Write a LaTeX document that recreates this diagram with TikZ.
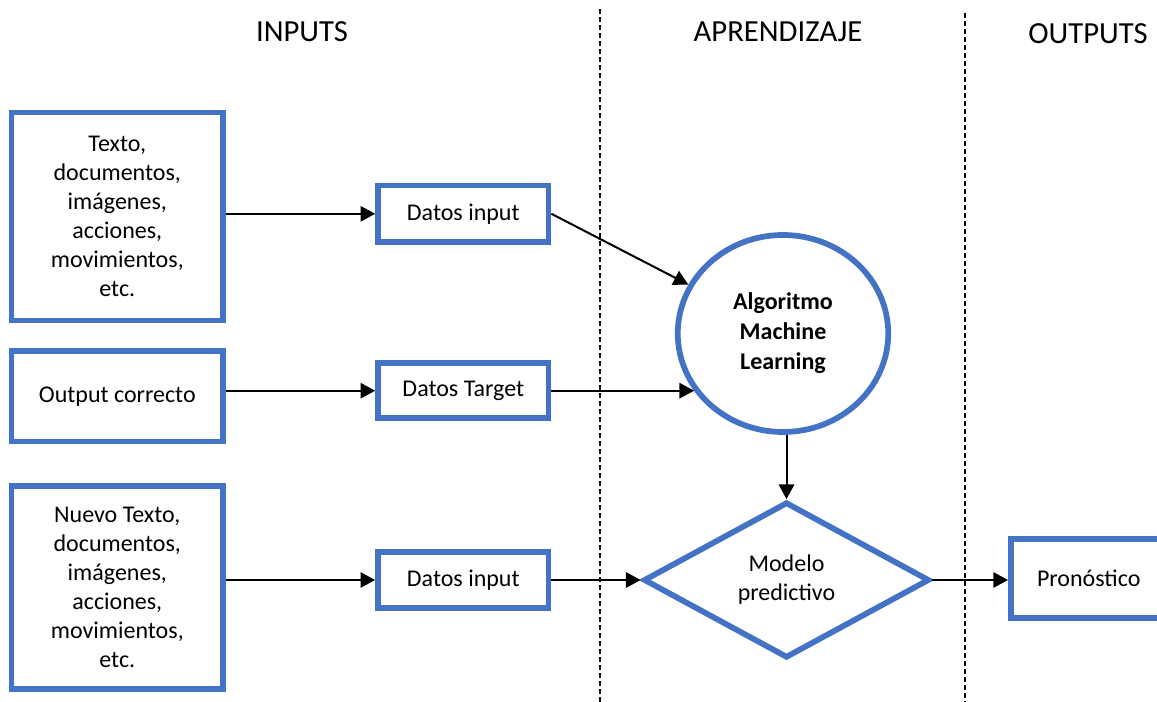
\documentclass[tikz,border=0pt]{standalone}
\usepackage{fontspec}
\setmainfont{Carlito}
\usetikzlibrary{arrows.meta,shapes.geometric}
\definecolor{boxblue}{HTML}{4472C4}

\begin{document}
\begin{tikzpicture}[x=0.75pt,y=-0.75pt,
  bluebox/.style={draw=boxblue, line width=4.3pt, fill=white, inner sep=0pt,
    align=center, text=black, font=\fontsize{18pt}{21.75pt}\selectfont},
  sz/.style 2 args={minimum width=#1*0.75pt, minimum height=#2*0.75pt},
  arr/.style={line width=1.5pt, draw=black, -{Triangle[length=11pt,width=11.5pt]}},
  head/.style={anchor=base, font=\fontsize{23pt}{27pt}\selectfont},
  lane/.style={line width=1pt, dash pattern=on 3.75pt off 2.25pt}]

% canvas
\fill[white] (0,0) rectangle (1157,702);
\useasboundingbox (0,0) rectangle (1157,702);

% lane separators
\draw[lane] (600,9) -- (600,702);
\draw[lane] (965,13) -- (965,702);

% lane titles
\node[head] (hin)  at (302,41.7)  {INPUTS};
\node[head] (hap)  at (778,41.7)  {APRENDIZAJE};
\node[head] (hout) at (1088,43.3) {OUTPUTS};

% sources
\node[bluebox, sz={211.5}{208}] (src1) at (117.3,216.5)
  {Texto,\\documentos,\\imágenes,\\acciones,\\movimientos,\\etc.};
\node[bluebox, sz={211.5}{90.7}] (src2) at (117.3,396.2) {Output correcto};
\node[bluebox, sz={211.5}{203}] (src3) at (117.3,587.8)
  {Nuevo Texto,\\documentos,\\imágenes,\\acciones,\\movimientos,\\etc.};

% data
\node[bluebox, sz={170.5}{56.5}] (din1) at (463.3,213.8) {Datos input};
\node[bluebox, sz={170.5}{54.7}] (dtar) at (463.3,390.7) {Datos Target};
\node[bluebox, sz={170.5}{56.3}] (din2) at (463.3,580)   {Datos input};

% learning
\node[bluebox, ellipse, sz={210.5}{197}, font=\bfseries\fontsize{18pt}{22.5pt}\selectfont]
  (alg) at (783,333.5) {Algoritmo\\Machine\\Learning};
\node[bluebox, diamond, sz={286}{156}] (mod) at (786.5,580) {Modelo\\predictivo};

% output
\node[bluebox, sz={155.6}{79.2}] (pron) at (1088.7,578.3) {Pronóstico};

% connectors
\draw[arr] (din1.west -| src1.east) -- (din1.west);
\draw[arr] (dtar.west -| src2.east) -- (dtar.west);
\draw[arr] (din2.west -| src3.east) -- (din2.west);
\draw[arr] (din1.east) -- (alg);
\draw[arr] (dtar.east) -- (dtar.east -| alg.213);
\draw[arr] (mod.north |- alg.south) -- (mod.north);
\draw[arr] (din2.east) -- (mod.west);
\draw[arr] (mod.east) -- (mod.east -| pron.west);
\end{tikzpicture}
\end{document}
